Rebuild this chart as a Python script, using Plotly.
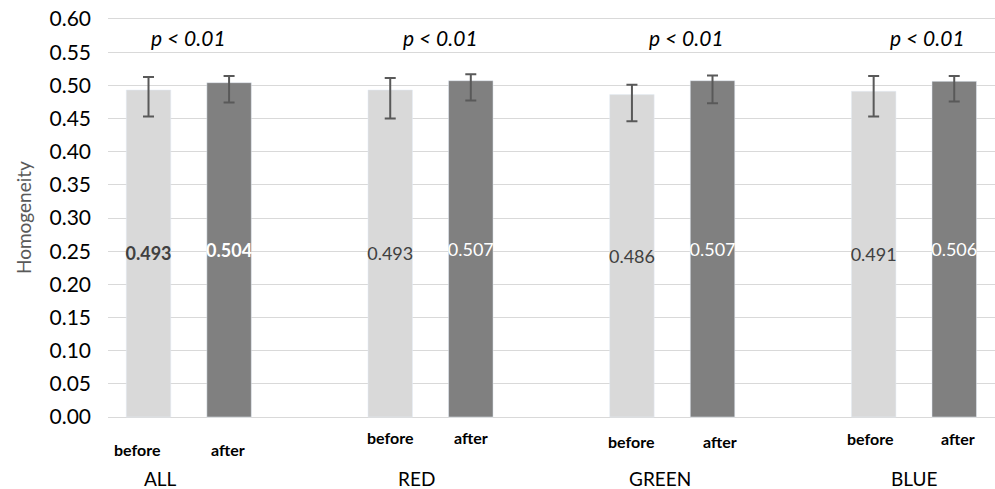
import plotly.graph_objects as go

# ---- data ----
categories = ["ALL", "RED", "GREEN", "BLUE"]
before_vals = [0.493, 0.493, 0.486, 0.491]
after_vals = [0.504, 0.507, 0.507, 0.506]
before_err_plus = [0.0195, 0.018, 0.015, 0.023]
before_err_minus = [0.040, 0.043, 0.040, 0.038]
after_err_plus = [0.010, 0.0096, 0.008, 0.008]
after_err_minus = [0.030, 0.030, 0.034, 0.0305]
p_labels = ["p < 0.01", "p < 0.01", "p < 0.01", "p < 0.01"]
bar_labels = ["before", "after"]
y_ticks = [0.0, 0.05, 0.10, 0.15, 0.20, 0.25, 0.30, 0.35, 0.40, 0.45, 0.50, 0.55, 0.60]

# ---- layout constants ----
FONT = "Lato"
PAIR_GAP = 1 / 3
BAR_W = 0.184
x_before = [i for i in range(len(categories))]
x_after = [i + PAIR_GAP for i in range(len(categories))]
p_xshift = [0, 10, 14, 14]
lbl_before_xshift = [-11, 0, 0, -3]
lbl_after_xshift = [-1, 0, 7, 4]
lbl_yshift = [-32, -20, -24, -21]
cat_xshift = [-28, -14, -12, 1]

def fmt(vals, bold_first):
    out = []
    for i, v in enumerate(vals):
        s = f"{v:.3f}"
        out.append(f"<b>{s}</b>" if (bold_first and i == 0) else s)
    return out

fig = go.Figure()
fig.add_trace(go.Bar(
    x=x_before, y=before_vals, width=BAR_W, marker_color="#d9d9d9",
    text=fmt(before_vals, True), textposition="inside", insidetextanchor="middle",
    textangle=0, constraintext="none",
    textfont=dict(family=FONT, size=18, color="#404040"),
    error_y=dict(type="data", symmetric=False, array=before_err_plus,
                 arrayminus=before_err_minus, color="#595959", thickness=2, width=5.5),
    cliponaxis=False, showlegend=False,
))
fig.add_trace(go.Bar(
    x=x_after, y=after_vals, width=BAR_W, marker_color="#808080",
    text=fmt(after_vals, True), textposition="inside", insidetextanchor="middle",
    textangle=0, constraintext="none",
    textfont=dict(family=FONT, size=18, color="#ffffff"),
    error_y=dict(type="data", symmetric=False, array=after_err_plus,
                 arrayminus=after_err_minus, color="#595959", thickness=2, width=5.5),
    cliponaxis=False, showlegend=False,
))

annotations = []
for i, cat in enumerate(categories):
    mid = (x_before[i] + x_after[i]) / 2
    annotations.append(dict(x=mid, y=0.572, xref="x", yref="y", text=f"<i>{p_labels[i]}</i>",
                            showarrow=False, xshift=p_xshift[i], bgcolor="white",
                            font=dict(family=FONT, size=21, color="#000000")))
    annotations.append(dict(x=x_before[i], y=0, xref="x", yref="y", text=f"<b>{bar_labels[0]}</b>",
                            showarrow=False, xshift=lbl_before_xshift[i], yshift=lbl_yshift[i],
                            font=dict(family=FONT, size=16, color="#000000")))
    annotations.append(dict(x=x_after[i], y=0, xref="x", yref="y", text=f"<b>{bar_labels[1]}</b>",
                            showarrow=False, xshift=lbl_after_xshift[i], yshift=lbl_yshift[i],
                            font=dict(family=FONT, size=16, color="#000000")))
    annotations.append(dict(x=mid, y=0, xref="x", yref="y", text=cat,
                            showarrow=False, xshift=cat_xshift[i], yshift=-61,
                            font=dict(family=FONT, size=19, color="#000000")))

annotations.append(dict(x=-0.0958, y=0.5, xref="paper", yref="paper", text="Homogeneity",
                        textangle=-90, showarrow=False, xanchor="center", yanchor="middle",
                        font=dict(family=FONT, size=19, color="#595959")))

fig.update_layout(
    width=995, height=489,
    margin=dict(l=108, r=0, t=16.6, b=70),
    paper_bgcolor="white", plot_bgcolor="white",
    barmode="overlay",
    font=dict(family=FONT),
    annotations=annotations,
    xaxis=dict(range=[-0.1676, 3.502], showticklabels=False, showgrid=False,
               zeroline=False, showline=False, ticks=""),
    yaxis=dict(range=[-0.003, 0.603], tickvals=y_ticks,
               ticktext=[f"{t:.2f}" for t in y_ticks],
               showgrid=True, gridcolor="#d9d9d9", gridwidth=1.3,
               zeroline=False, showline=False, ticks="",
               ticklabelstandoff=16,
               tickfont=dict(family=FONT, size=21, color="#000000")),
)

fig.write_html("out.html", config={"displayModeBar": False},
               post_script="document.body.style.margin='0';document.body.style.overflow='hidden';")
